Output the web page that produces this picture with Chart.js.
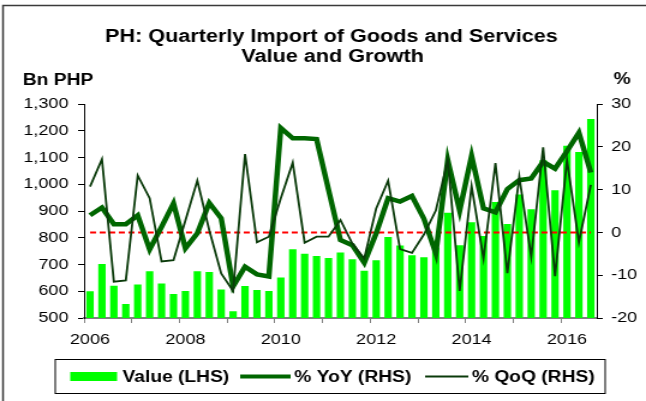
<!DOCTYPE html>
<html>
<head>
<meta charset="utf-8">
<script src="https://cdn.jsdelivr.net/npm/chart.js@4.4.0/dist/chart.umd.min.js"></script>
<style>
  html, body { margin: 0; padding: 0; background: #fff; overflow: hidden; }
  #myChart { display: block; }
</style>
</head>
<body>
<!-- the picture is a bit wider than it was drawn, so the canvas is drawn narrow and stretched -->
<canvas id="myChart" width="538" height="401" style="width:646px;height:401px;"></canvas>
<script>
// quarters 2006Q1 .. 2016Q3
const quarters = [
  '2006Q1','2006Q2','2006Q3','2006Q4','2007Q1','2007Q2','2007Q3','2007Q4',
  '2008Q1','2008Q2','2008Q3','2008Q4','2009Q1','2009Q2','2009Q3','2009Q4',
  '2010Q1','2010Q2','2010Q3','2010Q4','2011Q1','2011Q2','2011Q3','2011Q4',
  '2012Q1','2012Q2','2012Q3','2012Q4','2013Q1','2013Q2','2013Q3','2013Q4',
  '2014Q1','2014Q2','2014Q3','2014Q4','2015Q1','2015Q2','2015Q3','2015Q4',
  '2016Q1','2016Q2','2016Q3'
];
const yearLabels = ['2006', '2008', '2010', '2012', '2014', '2016'];

// Bn PHP (LHS)
const importValue = [
  600, 702, 621, 552, 625, 675, 629, 590,
  601, 675, 672, 607, 525, 620, 605, 601,
  651, 757, 740, 732, 724, 745, 720, 677,
  716, 803, 771, 735, 727, 764, 893, 772,
  858, 807, 934, 851, 962, 907, 1090, 978,
  1144, 1121, 1244
];
// % YoY (RHS)
const yoy = [
  4.0, 5.8, 1.9, 1.9, 4.0, -4.0, 1.3, 6.8,
  -3.7, -0.2, 6.9, 3.3, -12.6, -8.0, -9.8, -10.3,
  24.4, 22.0, 22.0, 21.8, 10.0, -1.8, -3.0, -7.1,
  -0.2, 8.0, 7.2, 8.5, 3.2, -4.9, 16.9, 5.1,
  17.9, 5.6, 4.7, 10.1, 12.2, 12.6, 16.5, 14.9,
  19.0, 23.3, 14.0
];
// % QoQ (RHS)
const qoq = [
  10.7, 17.1, -11.5, -11.2, 13.3, 8.0, -6.8, -6.5,
  2.8, 12.1, 0.5, -9.6, -13.7, 18.3, -2.3, -1.0,
  8.0, 16.3, -2.4, -1.0, -1.0, 2.9, -2.6, -6.1,
  5.6, 12.1, -3.9, -4.8, -0.5, 5.1, 16.9, -13.7,
  10.8, -6.1, 16.2, -9.5, 13.0, -5.7, 19.9, -10.2,
  16.9, -2.3, 11.1
];
const zeroLine = quarters.map(() => 0);

const FONT = '"Liberation Sans", Arial, sans-serif';
Chart.defaults.font.family = FONT;
Chart.defaults.color = '#000';

// title, unit labels, legend box and frame
const decor = {
  id: 'decor',
  afterDraw(chart) {
    const ctx = chart.ctx;
    ctx.save();
    // frame
    ctx.strokeStyle = '#3a3a3a';
    ctx.lineWidth = 1.5;
    ctx.beginPath();
    ctx.moveTo(2.5, 401);
    ctx.lineTo(2.5, 5.5);
    ctx.lineTo(538, 5.5);
    ctx.stroke();

    ctx.fillStyle = '#000';
    ctx.textBaseline = 'alphabetic';
    ctx.font = 'bold 18px ' + FONT;
    ctx.textAlign = 'center';
    ctx.fillText('PH: Quarterly Import of Goods and Services', 276, 41.5);
    ctx.fillText('Value and Growth', 277, 62);

    ctx.font = 'bold 16px ' + FONT;
    ctx.textAlign = 'left';
    ctx.fillText('Bn PHP', 19, 85);
    ctx.fillText('%', 511, 84);

    // legend
    ctx.strokeStyle = '#000';
    ctx.lineWidth = 1;
    ctx.strokeRect(46, 359.5, 458, 34);
    const ds = chart.data.datasets;
    ctx.fillStyle = ds[0].backgroundColor;
    ctx.fillRect(58.5, 372, 39, 9);
    ctx.lineCap = 'butt';
    ctx.strokeStyle = ds[2].borderColor;
    ctx.lineWidth = 4;
    ctx.beginPath(); ctx.moveTo(200, 376.5); ctx.lineTo(242, 376.5); ctx.stroke();
    ctx.strokeStyle = ds[3].borderColor;
    ctx.lineWidth = 2;
    ctx.beginPath(); ctx.moveTo(354, 376.5); ctx.lineTo(390, 376.5); ctx.stroke();
    ctx.fillStyle = '#000';
    ctx.font = 'bold 16px ' + FONT;
    ctx.fillText(ds[0].label, 102, 381.5);
    ctx.fillText(ds[2].label, 245, 381.5);
    ctx.fillText(ds[3].label, 393, 381.5);
    ctx.restore();
  }
};

const ctx = document.getElementById('myChart').getContext('2d');
const chart = new Chart(ctx, {
  type: 'bar',
  data: {
    labels: quarters,
    datasets: [
      {
        type: 'bar',
        label: 'Value (LHS)',
        data: importValue,
        yAxisID: 'y',
        backgroundColor: '#00ff00',
        barPercentage: 0.62,
        categoryPercentage: 1,
        order: 4
      },
      {
        type: 'line',
        label: 'zero',
        data: zeroLine,
        yAxisID: 'y1',
        borderColor: '#ff0000',
        borderWidth: 2,
        borderDash: [5, 3],
        pointRadius: 0,
        fill: false,
        order: 3
      },
      {
        type: 'line',
        label: '% YoY (RHS)',
        data: yoy,
        yAxisID: 'y1',
        borderColor: '#006600',
        borderWidth: 4.5,
        pointRadius: 0,
        tension: 0,
        fill: false,
        order: 2
      },
      {
        type: 'line',
        label: '% QoQ (RHS)',
        data: qoq,
        yAxisID: 'y1',
        borderColor: '#0a3a0a',
        borderWidth: 1.8,
        pointRadius: 0,
        tension: 0,
        fill: false,
        order: 1
      }
    ]
  },
  options: {
    responsive: false,
    devicePixelRatio: 1,
    animation: false,
    events: [],
    layout: { padding: { left: 0, right: 0, top: 104, bottom: 53 } },
    plugins: {
      legend: { display: false },
      title: { display: false },
      tooltip: { enabled: false }
    },
    scales: {
      x: {
        offset: true,
        grid: {
          offset: true,
          drawOnChartArea: false,
          drawTicks: true,
          tickLength: 5,
          color: (c) => (c.index % 4 === 0 ? '#808080' : 'rgba(0,0,0,0)')
        },
        border: { color: '#808080', width: 2 },
        ticks: {
          autoSkip: false,
          maxRotation: 0,
          padding: 8,
          font: { size: 15 },
          callback: (v, i) => (i % 8 === 0 ? yearLabels[i / 8] : '')
        },
        afterFit: (s) => { s.height = 30; }
      },
      y: {
        position: 'left',
        min: 500,
        max: 1300,
        grid: { drawOnChartArea: false, tickLength: 5, color: '#000' },
        border: { color: '#000', width: 1 },
        ticks: {
          stepSize: 100,
          padding: 8,
          font: { size: 15 },
          callback: (v) => v.toLocaleString('en-US')
        },
        afterFit: (s) => { s.width = 70; }
      },
      y1: {
        position: 'right',
        min: -20,
        max: 30,
        grid: { drawOnChartArea: false, tickLength: 5, color: '#000' },
        border: { color: '#000', width: 1 },
        ticks: { stepSize: 10, padding: 7, font: { size: 15 } },
        afterFit: (s) => { s.width = 41; }
      }
    }
  },
  plugins: [decor]
});
</script>
</body>
</html>
